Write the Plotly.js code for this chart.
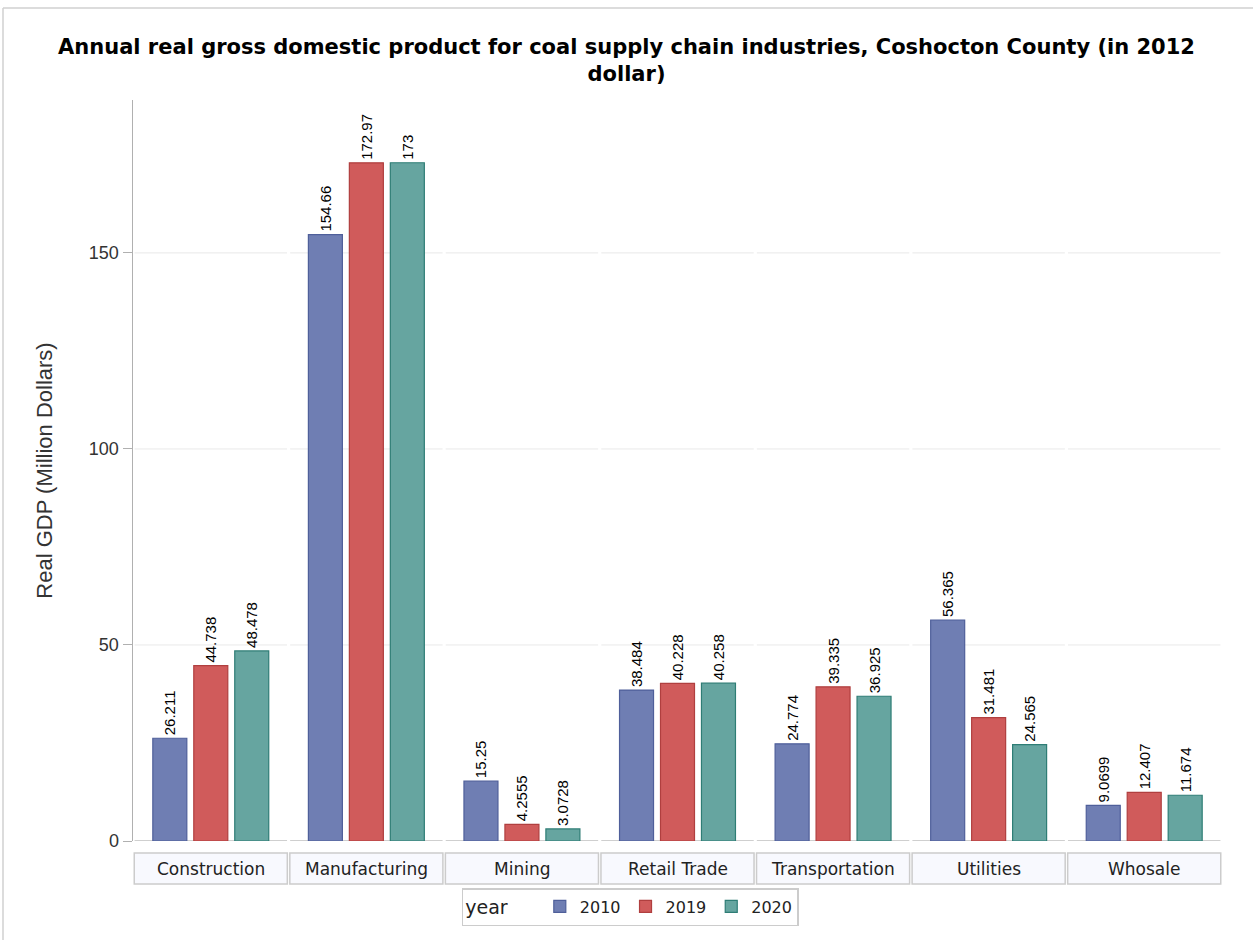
<!DOCTYPE html>
<html>
<head>
<meta charset="utf-8">
<script src="https://cdn.plot.ly/plotly-3.0.1.min.js"></script>
<style>html,body{margin:0;padding:0;background:#fff;}#chart{width:1253px;height:940px;}</style>
</head>
<body>
<div id="chart"></div>
<script>
var categories = ["Construction", "Manufacturing", "Mining", "Retail Trade", "Transportation", "Utilities", "Whosale"];
var years = ["2010", "2019", "2020"];
var gdp2010 = [26.211, 154.66, 15.25, 38.484, 24.774, 56.365, 9.0699];
var gdp2019 = [44.738, 172.97, 4.2555, 40.228, 39.335, 31.481, 12.407];
var gdp2020 = [48.478, 173, 3.0728, 40.258, 36.925, 24.565, 11.674];
var yTicks = [0, 50, 100, 150];

var series = [gdp2010, gdp2019, gdp2020];
var fills = ["#6f7eb3", "#d05b5b", "#66a5a0"];
var edges = ["#4f5f9a", "#b03f3f", "#2e7d75"];

var traces = series.map(function (vals, i) {
  return {
    type: "bar",
    name: years[i],
    x: categories,
    y: vals,
    text: vals.map(String),
    textposition: "outside",
    textangle: -90,
    constraintext: "none",
    cliponaxis: false,
    textfont: {family: "Liberation Sans, Arial, sans-serif", size: 15, color: "#000"},
    marker: {color: fills[i], line: {color: edges[i], width: 1.2}},
    hoverinfo: "x+y"
  };
});

var shapes = [];
var annotations = [];
var plotTop = 100, plotBottom = 841, plotH = plotBottom - plotTop;
function py(p) { return (plotBottom - p) / plotH; }
categories.forEach(function (c, k) {
  yTicks.forEach(function (t) {
    shapes.push({type: "line", xref: "x", yref: "y", x0: k - 0.49, x1: k + 0.49, y0: t, y1: t,
      line: {color: t === 0 ? "#cfcfcf" : "#e9e9e9", width: t === 0 ? 2 : 1}, layer: "below"});
  });
  shapes.push({type: "rect", xref: "x", yref: "paper", x0: k - 0.492, x1: k + 0.492, y0: py(884), y1: py(853),
    fillcolor: "#f8f9fe", line: {color: "#cccccc", width: 1.5}, layer: "below"});
  annotations.push({xref: "x", yref: "paper", x: k, y: py(869), text: c, showarrow: false,
    xanchor: "center", yanchor: "middle",
    font: {family: "DejaVu Sans, sans-serif", size: 17, color: "#222"}});
});
shapes.push({type: "line", xref: "paper", yref: "paper", x0: -130/1089, x1: 1.03, y0: py(8), y1: py(8), line: {color: "#d0d0d0", width: 1.5}});
shapes.push({type: "line", xref: "paper", yref: "paper", x0: -130/1089, x1: -130/1089, y0: py(8), y1: py(940), line: {color: "#d0d0d0", width: 1.5}});

var layout = {
  width: 1253, height: 940,
  paper_bgcolor: "#ffffff", plot_bgcolor: "#ffffff",
  margin: {l: 133, r: 31, t: 100, b: 99},
  title: {
    text: "<b>Annual real gross domestic product for coal supply chain industries, Coshocton County (in 2012<br>dollar)</b>",
    font: {family: "DejaVu Sans, sans-serif", size: 21, color: "#000"},
    x: 0.5, xref: "container", xanchor: "center", y: 1 - 54/940, yref: "container", yanchor: "middle"
  },
  barmode: "group",
  bargap: 0.21,
  bargroupgap: 0.17,
  showlegend: true,
  legend: {
    orientation: "h", xref: "container", yref: "container", x: 0.503, y: 1 - 907/940,
    xanchor: "center", yanchor: "middle",
    title: {text: "year    ", font: {family: "DejaVu Sans, sans-serif", size: 19, color: "#222"}},
    font: {family: "DejaVu Sans, sans-serif", size: 16, color: "#222"},
    bordercolor: "#cccccc", borderwidth: 1.5, bgcolor: "#ffffff",
    itemwidth: 30, traceorder: "normal", valign: "middle"
  },
  xaxis: {
    type: "category", range: [-0.5, 6.5], showticklabels: false, showgrid: false,
    zeroline: false, showline: false, ticks: "", fixedrange: true
  },
  yaxis: {
    range: [0, 189], tickvals: yTicks, ticktext: yTicks.map(String),
    showgrid: false, zeroline: false, showline: true, linecolor: "#b0b0b0", linewidth: 1.5,
    ticks: "outside", ticklen: 9, tickcolor: "#b0b0b0",
    tickfont: {family: "Liberation Sans, Arial, sans-serif", size: 18, color: "#333"},
    title: {text: "Real GDP (Million Dollars)", font: {family: "Liberation Sans, Arial, sans-serif", size: 22, color: "#333"}, standoff: 30}
  },
  shapes: shapes,
  annotations: annotations
};

Plotly.newPlot("chart", traces, layout, {displayModeBar: false, staticPlot: true});
</script>
</body>
</html>
